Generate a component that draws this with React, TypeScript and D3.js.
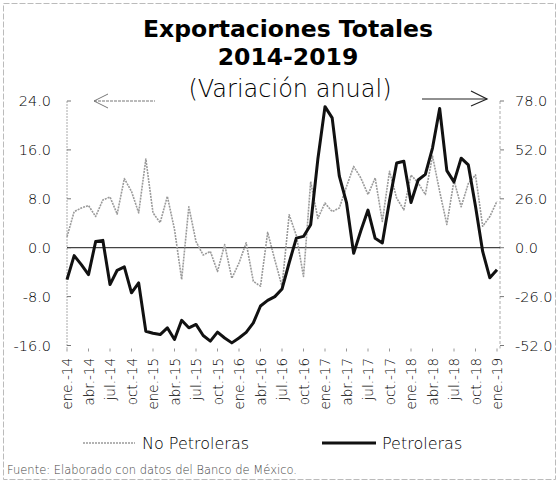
import React from 'react';
import * as d3 from 'd3';

const quarterLabels = [
  'ene.-14', 'abr.-14', 'jul.-14', 'oct.-14',
  'ene.-15', 'abr.-15', 'jul.-15', 'oct.-15',
  'ene.-16', 'abr.-16', 'jul.-16', 'oct.-16',
  'ene.-17', 'abr.-17', 'jul.-17', 'oct.-17',
  'ene.-18', 'abr.-18', 'jul.-18', 'oct.-18',
  'ene.-19',
];

// monthly, ene-14 .. ene-19 (left axis, %)
const noPetroleras = [
  1.8, 5.9, 6.5, 6.9, 5.1, 7.8, 8.3, 5.5, 11.3, 9.2,
  5.7, 14.5, 5.7, 4.1, 8.4, 3.0, -5.2, 6.7, 1.0, -1.2,
  -0.6, -3.9, 0.5, -5.0, -2.5, 0.8, -5.5, -6.3, 2.5, -2.0,
  -6.3, 5.4, 2.0, -4.7, 10.8, 4.8, 7.3, 5.9, 6.5, 10.0,
  13.3, 11.4, 8.7, 11.4, 4.3, 12.5, 8.1, 6.2, 11.9, 10.6,
  8.7, 15.0, 9.2, 3.8, 11.0, 6.7, 10.5, 11.9, 3.5, 5.1,
  7.6,
];

// monthly, ene-14 .. ene-19 (right axis, %)
const petroleras = [
  -17, -4.2, -9, -14.3, 3.3, 3.9, -19.6, -12, -10.2, -24,
  -18.7, -44.4, -45.5, -46.2, -42.6, -48.8, -38.6, -42.6, -40.8, -46.7,
  -49.7, -44.9, -48, -50.6, -48, -45, -40, -31, -28, -26,
  -22, -8, 5.1, 6, 12.2, 47, 75, 69, 38, 24,
  -3, 9, 20, 5, 2.5, 25, 45, 46, 24, 36,
  39, 53, 74, 41, 35, 47.6, 44, 22, -2, -16,
  -11.7,
];

const leftTicks = [24, 16, 8, 0, -8, -16];
const rightTicks = [78, 52, 26, 0, -26, -52];

const FONT = '"DejaVu Sans", sans-serif';

export default function App() {
  const width = 557;
  const height = 482;
  const x0 = 67;
  const x1 = 497;
  const yTop = 101;
  const yBot = 345.5;

  const x = d3.scaleLinear().domain([0, noPetroleras.length - 1]).range([x0, x1]);
  const yL = d3.scaleLinear().domain([-16, 24]).range([yBot, yTop]);
  const yR = d3.scaleLinear().domain([-52, 78]).range([yBot, yTop]);

  const lineL = d3.line<number>().x((_, i) => x(i)).y(d => yL(d));
  const lineR = d3.line<number>().x((_, i) => x(i)).y(d => yR(d));

  const axisLeftX = 67;
  const axisRightX = 500;

  return (
    <div style={{ position: 'absolute', left: 0, top: 0 }}>
      <svg width={width} height={height} style={{ display: 'block', background: '#fff' }}>
        {/* frame */}
        <rect x={3.5} y={3.5} width={552} height={476} fill="none" stroke="#bbb" strokeWidth={1} strokeDasharray="6 2" />

        {/* title */}
        <text x={288} y={37} textAnchor="middle" fontFamily={FONT} fontWeight="bold" fontSize={23.5} fill="#000">
          Exportaciones Totales
        </text>
        <text x={288} y={65} textAnchor="middle" fontFamily={FONT} fontWeight="bold" fontSize={23.5} fill="#000">
          2014-2019
        </text>
        <text x={290} y={97} textAnchor="middle" fontFamily={FONT} fontWeight={300} fontSize={24} fill="#000">
          (Variación anual)
        </text>

        {/* arrows */}
        <g stroke="#777" strokeWidth={1} fill="none">
          <line x1={94} y1={101} x2={155} y2={101} strokeDasharray="3 1" />
          <polyline points="108,94 94,101 108,108" />
        </g>
        <g stroke="#222" strokeWidth={1.2} fill="none">
          <line x1={422} y1={99} x2={487} y2={99} />
          <polyline points="471,91 487,99 471,106" />
        </g>

        {/* left axis */}
        <line x1={axisLeftX} y1={yTop} x2={axisLeftX} y2={yBot + 3} stroke="#aaa" strokeWidth={1} strokeDasharray="2 1" />
        {leftTicks.map(t => (
          <g key={`l${t}`}>
            <line x1={axisLeftX} x2={axisLeftX + 4} y1={yL(t)} y2={yL(t)} stroke="#777" />
            <text x={51} y={yL(t)} dy="0.35em" textAnchor="end" fontFamily={FONT} fontWeight={300} fontSize={14.5} fill="#000">
              {t.toFixed(1)}
            </text>
          </g>
        ))}

        {/* right axis */}
        <line x1={axisRightX} y1={yTop} x2={axisRightX} y2={yBot + 3} stroke="#aaa" strokeWidth={1} strokeDasharray="3 2" />
        {rightTicks.map(t => (
          <g key={`r${t}`}>
            <line x1={axisRightX} x2={axisRightX + 4} y1={yR(t)} y2={yR(t)} stroke="#777" />
            <text x={515} y={yR(t)} dy="0.35em" textAnchor="start" fontFamily={FONT} fontWeight={300} fontSize={14.5} fill="#000">
              {t.toFixed(1)}
            </text>
          </g>
        ))}

        {/* zero line */}
        <line x1={axisLeftX} x2={axisRightX} y1={yL(0)} y2={yL(0)} stroke="#444" strokeWidth={1.2} />

        {/* x labels */}
        {quarterLabels.map((lab, k) => {
          const xi = x(k * 3);
          return (
            <g key={lab}>
              <line x1={xi} x2={xi} y1={yBot + 3} y2={yBot + 6} stroke="#999" />
              <text
                transform={`translate(${xi + 5},${358}) rotate(-90)`}
                textAnchor="end"
                fontFamily={FONT}
                fontWeight={300}
                fontSize={13.5}
                fill="#000"
              >
                {lab}
              </text>
            </g>
          );
        })}

        {/* series */}
        <path d={lineL(noPetroleras) || ''} fill="none" stroke="#9a9a9a" strokeWidth={1.6} strokeDasharray="2 1" strokeLinejoin="round" />
        <path d={lineR(petroleras) || ''} fill="none" stroke="#111" strokeWidth={3} strokeLinejoin="round" />

        {/* legend */}
        <line x1={83} x2={135} y1={443} y2={443} stroke="#9a9a9a" strokeWidth={1.6} strokeDasharray="2 1" />
        <text x={142} y={449} fontFamily={FONT} fontWeight={300} fontSize={16} fill="#000">No Petroleras</text>
        <line x1={322} x2={376} y1={443} y2={443} stroke="#111" strokeWidth={3} />
        <text x={382} y={449} fontFamily={FONT} fontWeight={300} fontSize={16} fill="#000">Petroleras</text>

        {/* source */}
        <text x={7} y={474} fontFamily={FONT} fontWeight={300} fontSize={11.5} fill="#444">
          Fuente: Elaborado con datos del Banco de México.
        </text>
      </svg>
    </div>
  );
}
